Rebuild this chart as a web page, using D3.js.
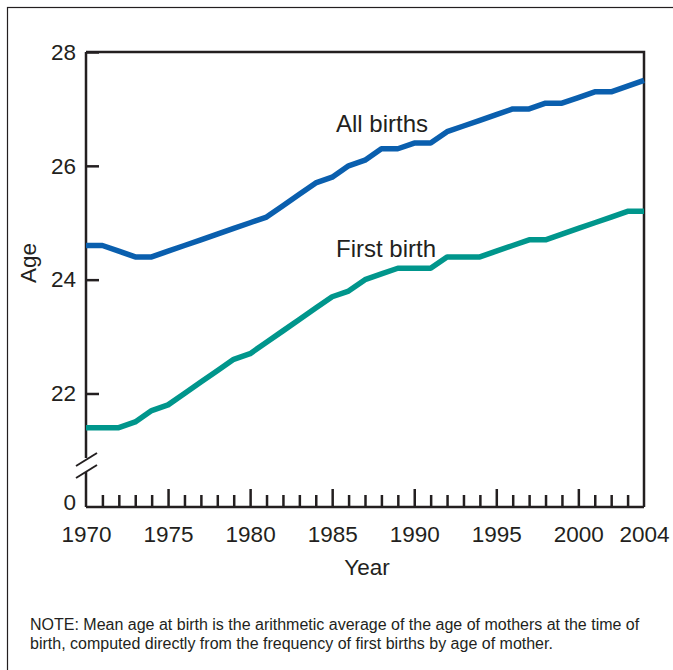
<!DOCTYPE html>
<html>
<head>
<meta charset="utf-8">
<script src="https://cdn.jsdelivr.net/npm/d3@7"></script>
<style>
  body { margin: 0; background: #fff; }
  svg { display: block; font-family: "Liberation Sans", Arial, Helvetica, sans-serif; }
</style>
</head>
<body>
<svg id="chart" width="673" height="670"></svg>
<script>
const years = d3.range(1970, 2005);
const allBirths = [24.6,24.6,24.5,24.4,24.4,24.5,24.6,24.7,24.8,24.9,25.0,25.1,25.3,25.5,25.7,25.8,26.0,26.1,26.3,26.3,26.4,26.4,26.6,26.7,26.8,26.9,27.0,27.0,27.1,27.1,27.2,27.3,27.3,27.4,27.5];
const firstBirth = [21.4,21.4,21.4,21.5,21.7,21.8,22.0,22.2,22.4,22.6,22.7,22.9,23.1,23.3,23.5,23.7,23.8,24.0,24.1,24.2,24.2,24.2,24.4,24.4,24.4,24.5,24.6,24.7,24.7,24.8,24.9,25.0,25.1,25.2,25.2];
const xTickLabels = [1970, 1975, 1980, 1985, 1990, 1995, 2000, 2004];
const yTickValues = [0, 22, 24, 26, 28];
const seriesNames = ["All births", "First birth"];
const seriesColors = ["#0a5fae", "#00968c"];
const noteLines = [
  "NOTE: Mean age at birth is the arithmetic average of the age of mothers at the time of",
  "birth, computed directly from the frequency of first births by age of mother."
];

const svg = d3.select("#chart");
const ink = "#231f20";
const tickFont = 22.5;

// outer frame (cut at right/bottom edges as in the reference)
svg.append("rect").attr("x", 7.5).attr("y", 7.5).attr("width", 700).attr("height", 700)
  .attr("fill", "none").attr("stroke", ink).attr("stroke-width", 1.2);

const pLeft = 86, pRight = 644, pTop = 52, pBottom = 507;
const x = d3.scaleLinear().domain([1970, 2004]).range([pLeft, pRight]);
// broken axis: 0 at the bottom, 21..28 linear above the break
const y = d3.scaleLinear().domain([0, 21, 28]).range([pBottom, 450.4, pTop]);

const g = svg.append("g");

// Plot frame top and right
g.append("path").attr("d", `M${pLeft},${pTop}H${pRight}V${pBottom}`)
  .attr("fill", "none").attr("stroke", ink).attr("stroke-width", 2.5);

// Y axis line with break
const breakTop = 458, breakBot = 472;
g.append("path").attr("d", `M${pLeft},${pTop}V${breakTop}M${pLeft},${breakBot}V${pBottom}`)
  .attr("fill", "none").attr("stroke", ink).attr("stroke-width", 2.5);
// break marks
[[466, 453], [478, 465]].forEach(([y1, y2]) => {
  g.append("line").attr("x1", 76).attr("y1", y1).attr("x2", 97).attr("y2", y2)
    .attr("stroke", ink).attr("stroke-width", 2);
});

// Y axis ticks/labels
const yAxis = d3.axisLeft(y).tickValues(yTickValues).tickSizeInner(-13).tickSizeOuter(0).tickPadding(10)
  .tickFormat(d3.format("d"));
const yg = g.append("g").attr("transform", `translate(${pLeft},0)`).call(yAxis);
yg.select(".domain").remove();
yg.selectAll(".tick line").attr("stroke", ink).attr("stroke-width", 2.5)
  .filter(d => d === 0).remove();
yg.selectAll(".tick text").attr("font-size", tickFont).attr("fill", ink)
  .attr("font-family", "Liberation Sans, Arial, sans-serif")
  .filter(d => d === 0).attr("dy", "0.1em");

// X axis minor ticks
const xMinor = d3.axisBottom(x).tickValues(years.filter(v => v % 5 !== 0 && v !== 2004))
  .tickSizeInner(-12).tickSizeOuter(0).tickFormat("");
const xmg = g.append("g").attr("transform", `translate(0,${pBottom})`).call(xMinor);
xmg.select(".domain").remove();
xmg.selectAll(".tick line").attr("stroke", ink).attr("stroke-width", 2.5);

// X axis major ticks + labels
const xMajor = d3.axisBottom(x).tickValues(xTickLabels).tickSizeInner(-18).tickSizeOuter(0).tickPadding(19)
  .tickFormat(d3.format("d"));
const xg = g.append("g").attr("transform", `translate(0,${pBottom})`).call(xMajor);
xg.select(".domain").attr("stroke", ink).attr("stroke-width", 2.5).attr("d", `M${pLeft},0H${pRight}`);
xg.selectAll(".tick line").attr("stroke", ink).attr("stroke-width", 2.5)
  .filter(d => d === 1970 || d === 2004).remove();
xg.selectAll(".tick text").attr("font-size", tickFont).attr("fill", ink)
  .attr("font-family", "Liberation Sans, Arial, sans-serif");

// Lines
const line = d3.line().x((d, i) => x(years[i])).y(d => y(d)).curve(d3.curveLinear);
[allBirths, firstBirth].forEach((s, i) => {
  g.append("path").datum(s).attr("d", line).attr("fill", "none")
    .attr("stroke", seriesColors[i]).attr("stroke-width", 5.5)
    .attr("stroke-linejoin", "round");
});

// Series labels
g.append("text").attr("x", 336).attr("y", 132).attr("font-size", 24).attr("fill", ink).text(seriesNames[0]);
g.append("text").attr("x", 336).attr("y", 257).attr("font-size", 24).attr("fill", ink).text(seriesNames[1]);

// Axis titles
svg.append("text").attr("transform", "translate(36,263) rotate(-90)").attr("text-anchor", "middle")
  .attr("font-size", tickFont).attr("fill", ink).text("Age");
svg.append("text").attr("x", 367).attr("y", 575).attr("text-anchor", "middle")
  .attr("font-size", tickFont).attr("fill", ink).text("Year");

// Note
svg.append("g").selectAll("text").data(noteLines).join("text")
  .attr("x", 30).attr("y", (d, i) => 630 + i * 19)
  .attr("font-size", 16).attr("fill", ink).text(d => d);
</script>
</body>
</html>
